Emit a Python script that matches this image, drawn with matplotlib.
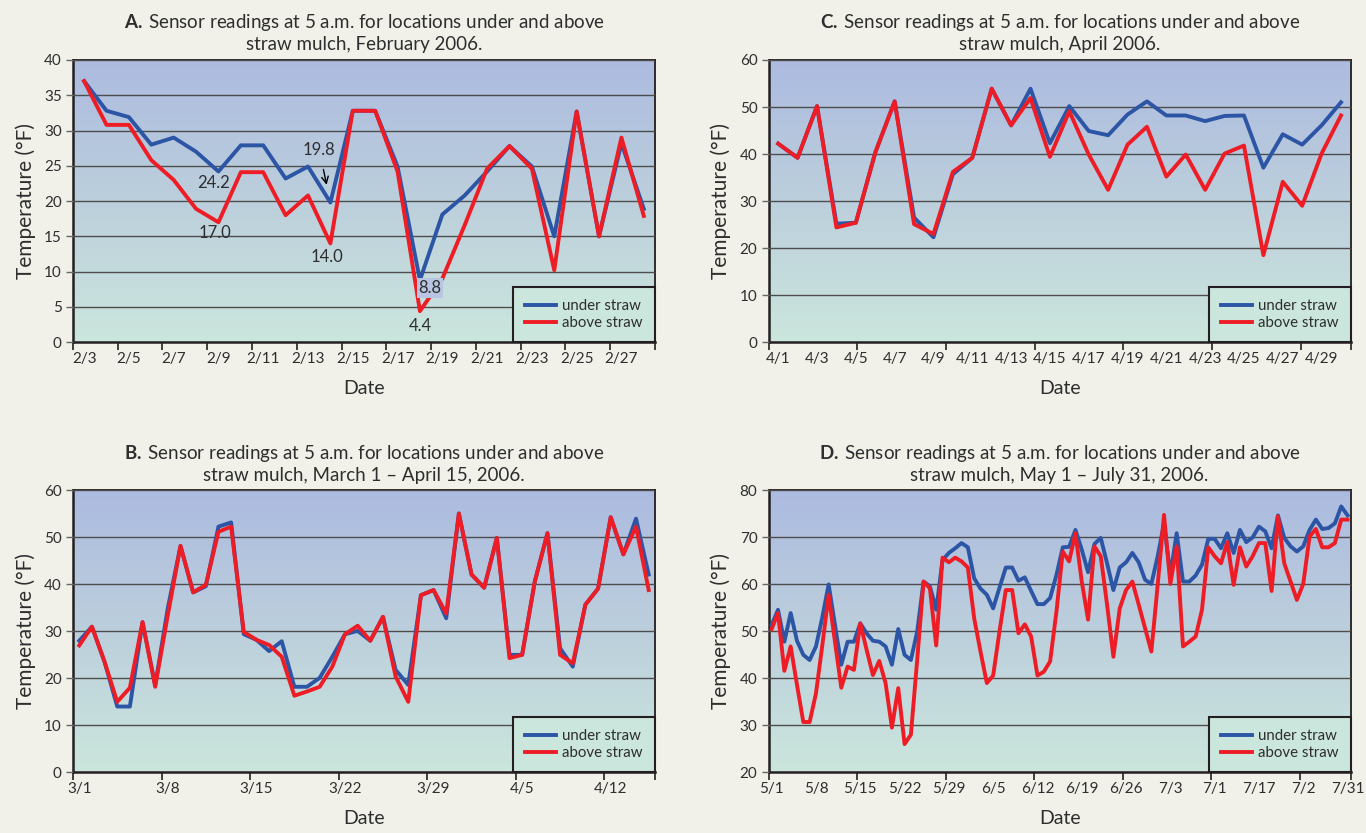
import numpy as np
import matplotlib
matplotlib.use("Agg")
import matplotlib.pyplot as plt
from matplotlib.colors import LinearSegmentedColormap

plt.rcParams['font.family'] = ['Lato', 'DejaVu Sans']
plt.rcParams['mathtext.fontset'] = 'custom'
plt.rcParams['mathtext.rm'] = 'Lato'
plt.rcParams['mathtext.bf'] = 'Lato:bold'

# ---- data ----
# A: February 3 - 28, 2006
under_A = [37.0, 32.8, 31.9, 28.0, 29.0, 27.0, 24.2, 27.9, 27.9, 23.2, 24.9, 19.8, 32.8,
           32.8, 24.9, 8.8, 18.1, 20.8, 24.2, 27.8, 24.9, 15.0, 32.7, 15.0, 28.2, 18.9]
above_A = [37.0, 30.8, 30.8, 25.8, 23.0, 18.9, 17.0, 24.1, 24.1, 18.0, 20.8, 14.0, 32.8,
           32.8, 24.2, 4.4, 9.0, 16.6, 24.6, 27.8, 24.6, 10.2, 32.7, 15.0, 29.0, 17.9]
labels_A = ["2/3", "2/5", "2/7", "2/9", "2/11", "2/13", "2/15", "2/17", "2/19",
            "2/21", "2/23", "2/25", "2/27"]

# B: March 1 - April 15, 2006
under_B = [28.0, 31.0, 23.5, 14.0, 14.0, 31.9, 18.6, 35.0, 48.2, 38.3, 39.6, 52.3, 53.2,
           29.4, 28.2, 25.8, 27.9, 18.2, 18.2, 20.1, 24.6, 29.4, 30.1, 28.0, 33.1, 21.8,
           18.6, 37.7, 38.8, 32.8, 55.1, 42.1, 39.3, 49.9, 25.0, 25.0, 40.6, 50.9, 26.4,
           22.5, 35.7, 39.1, 54.3, 46.4, 54.0, 42.1]
above_B = [27.0, 31.0, 23.5, 15.0, 18.0, 32.0, 18.2, 33.5, 48.2, 38.3, 39.9, 51.2, 52.3,
           29.9, 28.2, 27.1, 24.6, 16.3, 17.2, 18.2, 22.5, 29.4, 31.2, 28.0, 33.1, 20.4,
           15.0, 37.7, 38.8, 33.8, 55.1, 42.1, 39.3, 49.9, 24.3, 25.0, 40.6, 50.9, 25.0,
           23.2, 35.7, 39.1, 54.3, 46.4, 52.3, 38.8]
labels_B = ["3/1", "3/8", "3/15", "3/22", "3/29", "4/5", "4/12"]

# C: April 2006
under_C = [42.2, 39.2, 50.2, 25.2, 25.4, 40.3, 51.2, 26.5, 22.3, 35.7, 39.2, 53.9, 46.1,
           53.9, 42.3, 50.2, 44.9, 44.0, 48.4, 51.2, 48.2, 48.2, 47.0, 48.1, 48.2, 37.1,
           44.2, 42.0, 46.1, 51.0]
above_C = [42.2, 39.2, 50.2, 24.4, 25.4, 40.3, 51.2, 25.1, 23.0, 36.2, 39.2, 53.9, 46.1,
           51.9, 39.4, 49.1, 39.9, 32.4, 42.0, 45.8, 35.2, 39.9, 32.4, 40.1, 41.8, 18.5,
           34.1, 29.0, 40.1, 48.2]
labels_C = ["4/1", "4/3", "4/5", "4/7", "4/9", "4/11", "4/13", "4/15", "4/17", "4/19",
            "4/21", "4/23", "4/25", "4/27", "4/29"]

# D: May 1 - July 31, 2006
under_D = [51.4, 54.6, 47.8, 53.9, 48.0, 45.0, 43.9, 46.8, 53.0, 60.0, 51.4, 42.9, 47.8,
           47.8, 51.7, 49.6, 48.0, 47.8, 46.8, 42.9, 50.5, 45.0, 43.9, 50.0, 60.6, 59.6,
           54.6, 65.2, 66.7, 67.7, 68.8, 67.9, 61.3, 59.1, 57.8, 54.9, 59.3, 63.6, 63.6,
           60.8, 61.5, 58.6, 55.8, 55.8, 57.1, 62.0, 67.9, 68.0, 71.6, 67.4, 62.6, 68.6,
           69.9, 64.5, 58.8, 63.6, 64.7, 66.7, 64.7, 61.0, 60.1, 66.0, 73.0, 62.0, 70.9,
           60.6, 60.6, 61.9, 64.2, 69.7, 69.7, 67.7, 70.9, 66.7, 71.6, 69.0, 70.0, 72.3,
           71.3, 67.7, 74.7, 69.9, 68.1, 67.0, 68.1, 71.6, 73.8, 71.8, 72.0, 73.0, 76.6,
           74.7]
above_D = [50.5, 53.9, 41.6, 46.8, 38.6, 30.7, 30.7, 36.8, 47.0, 57.8, 47.8, 38.0, 42.5,
           41.8, 51.7, 46.1, 40.7, 43.7, 39.0, 29.5, 37.9, 26.0, 28.0, 44.0, 60.6, 59.2,
           47.0, 65.7, 64.7, 65.7, 64.9, 63.6, 52.8, 45.7, 39.0, 40.6, 50.0, 58.8, 58.8,
           49.6, 51.5, 48.9, 40.6, 41.4, 43.6, 54.2, 67.0, 64.9, 70.9, 60.6, 52.5, 68.1,
           66.0, 55.7, 44.6, 54.9, 58.8, 60.6, 55.7, 50.7, 45.7, 59.9, 74.8, 60.1, 68.1,
           46.8, 47.8, 48.9, 54.6, 67.9, 66.0, 64.5, 69.0, 59.9, 67.9, 63.8, 66.0, 68.8,
           68.8, 58.6, 74.5, 64.5, 60.6, 56.7, 60.1, 70.2, 71.8, 67.9, 67.9, 68.8, 73.8,
           73.8]
labels_D = ["5/1", "5/8", "5/15", "5/22", "5/29", "6/5", "6/12", "6/19", "6/26", "7/3",
            "7/1", "7/17", "7/2", "7/31"]

BLUE = '#2d55a5'
RED = '#ee1c25'
BG = '#f1f1ea'
DARK = '#231f20'
TXT = '#2e2e2e'
grad = LinearSegmentedColormap.from_list('bg', ['#cbe6dd', '#bccfdc', '#acbbe0'])


def draw_panel(ax, title, under, above, labels, label_step, ymax, ystep, tick_pos, ymin=0):
    n = len(under)
    x = np.arange(n)
    ax.set_xlim(-0.5, n - 0.5)
    ax.set_ylim(ymin, ymax)
    # gradient background
    ax.imshow(np.linspace(0, 1, 256).reshape(-1, 1), cmap=grad, origin='lower',
              extent=[0, 1, 0, 1], transform=ax.transAxes, aspect='auto', zorder=0)
    ax.set_yticks(np.arange(ymin, ymax + 1, ystep))
    ax.yaxis.grid(True, color='#4d4d4d', linewidth=1.0, zorder=1)
    ax.set_axisbelow(False)
    ax.plot(x, under, color=BLUE, lw=2.8, zorder=3, label='under straw')
    ax.plot(x, above, color=RED, lw=2.8, zorder=4, label='above straw')

    ax.set_xticks(tick_pos)
    ax.set_xticklabels([])
    ax.set_xticks(np.arange(0, n, label_step), minor=True)
    ax.set_xticklabels(labels, minor=True)
    ax.tick_params(axis='x', which='major', length=6, width=1.2, color=DARK)
    ax.tick_params(axis='x', which='minor', length=0, pad=7, labelsize=11, labelcolor=TXT)
    ax.tick_params(axis='y', length=5, width=1, color='#666666', pad=3,
                   labelsize=11, labelcolor=TXT)
    for s in ['left', 'bottom']:
        ax.spines[s].set_linewidth(1.8)
        ax.spines[s].set_color(DARK)
    for s in ['top', 'right']:
        ax.spines[s].set_linewidth(1.3)
        ax.spines[s].set_color(DARK)
    ax.set_xlabel('Date', fontsize=14, color=TXT, labelpad=10)
    ax.set_ylabel('Temperature (°F)', fontsize=15, color=TXT, labelpad=6)
    ax.set_title(title, fontsize=13.5, color=TXT, pad=7, linespacing=1.2)
    leg = ax.legend(loc='lower right', borderaxespad=0, fancybox=False, fontsize=10.8,
                    handlelength=2.1, handletextpad=0.4, borderpad=0.8, labelspacing=0.2,
                    framealpha=1, facecolor='#cbe6dd', edgecolor=DARK)
    leg.get_frame().set_linewidth(1.5)
    for t in leg.get_texts():
        t.set_color(TXT)
    leg.set_zorder(5)


fig = plt.figure(figsize=(13.66, 8.33), dpi=100, facecolor=BG)
axA = fig.add_axes([0.0534, 0.5892, 0.4261, 0.3388])
axC = fig.add_axes([0.5626, 0.5892, 0.4262, 0.3388])
axB = fig.add_axes([0.0534, 0.0729, 0.4261, 0.3383])
axD = fig.add_axes([0.5626, 0.0729, 0.4262, 0.3383])

head = r'$\mathbf{%s.}\,$Sensor readings at 5 a.m. for locations under and above' + '\n'
draw_panel(axA, head % 'A' + 'straw mulch, February 2006.', under_A, above_A, labels_A,
           2, 40, 5, np.arange(-0.5, 26, 2))
draw_panel(axC, head % 'C' + 'straw mulch, April 2006.', under_C, above_C, labels_C,
           2, 60, 10, list(-0.5 + np.arange(7) * 32 / 7) + [29.5])
draw_panel(axB, head % 'B' + 'straw mulch, March 1 – April 15, 2006.', under_B, above_B,
           labels_B, 7, 60, 10, list(np.arange(-0.5, 46, 7)) + [45.5])
draw_panel(axD, head % 'D' + 'straw mulch, May 1 – July 31, 2006.', under_D, above_D,
           labels_D, 7, 80, 10, list(np.arange(-0.5, 92, 14)) + [91.5], ymin=20)

# value callouts on panel A
ann = dict(textcoords='offset pixels', ha='center', va='center', fontsize=12,
           color=TXT, zorder=6)
axA.annotate('24.2', xy=(6, under_A[6]), xytext=(-5, -12), **ann)
axA.annotate('17.0', xy=(6, above_A[6]), xytext=(-3, -11), **ann)
axA.annotate('14.0', xy=(11, above_A[11]), xytext=(-3, -14), **ann)
axA.annotate('4.4', xy=(15, above_A[15]), xytext=(0, -15), **ann)
axA.annotate('8.8', xy=(15, under_A[15]), xytext=(10, -8),
             bbox=dict(boxstyle='square,pad=0.1', fc='#b8c6e3', ec='none'), **ann)
axA.annotate('19.8', xy=(11, under_A[11]), xytext=(-11, 52),
             arrowprops=dict(arrowstyle='->', color='black', lw=1, shrinkA=6, shrinkB=13),
             **ann)

fig.savefig('out.png', dpi=100, facecolor=BG)
